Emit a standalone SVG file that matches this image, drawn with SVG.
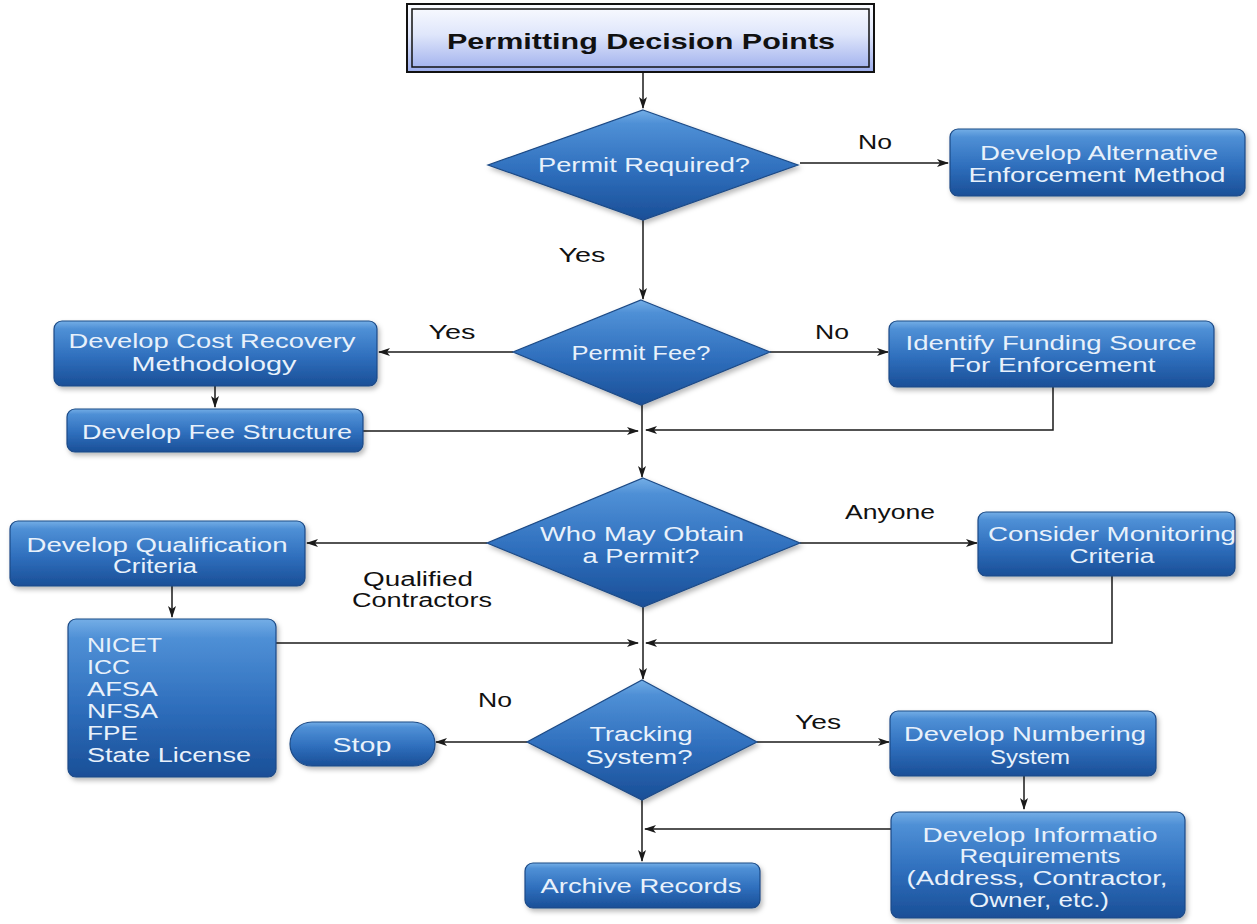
<svg xmlns="http://www.w3.org/2000/svg" width="1257" height="924" viewBox="0 0 1257 924">
<defs>
<linearGradient id="gBox" x1="0" y1="0" x2="0" y2="1">
<stop offset="0" stop-color="#74aee6"/>
<stop offset="0.12" stop-color="#4f90d6"/>
<stop offset="0.55" stop-color="#2f6fbd"/>
<stop offset="1" stop-color="#1a4f97"/>
</linearGradient>
<linearGradient id="gTitle" x1="0" y1="0" x2="0" y2="1">
<stop offset="0" stop-color="#fbfcff"/>
<stop offset="0.45" stop-color="#dfe6fb"/>
<stop offset="1" stop-color="#9cadec"/>
</linearGradient>
<filter id="sh" x="-10%" y="-10%" width="125%" height="135%">
<feDropShadow dx="2" dy="3" stdDeviation="2.5" flood-color="#000" flood-opacity="0.28"/>
</filter>
<marker id="ar" viewBox="0 0 12 10" refX="11" refY="5" markerWidth="12" markerHeight="10" markerUnits="userSpaceOnUse" orient="auto">
<path d="M0,1 L12,5 L0,9 L3,5 Z" fill="#1a1a1a"/>
</marker>
</defs>
<style>
.box{fill:url(#gBox);stroke:#1c4a86;stroke-width:1.2;filter:url(#sh)}
.bt{font-family:"Liberation Sans",Arial,sans-serif;font-size:20px;fill:#e8f1fb;text-anchor:middle}
.lt{font-family:"Liberation Sans",Arial,sans-serif;font-size:20px;fill:#e8f1fb}
.lbl{font-family:"Liberation Sans",Arial,sans-serif;font-size:20px;fill:#111;text-anchor:middle}
.con{fill:none;stroke:#1a1a1a;stroke-width:1.5}
</style>
<rect width="1257" height="924" fill="#ffffff"/>

<g id="connectors">
<path class="con" d="M643,72 V108" marker-end="url(#ar)"/>
<path class="con" d="M800,163 H948" marker-end="url(#ar)"/>
<path class="con" d="M643,220 V299" marker-end="url(#ar)"/>
<path class="con" d="M513,352 H379" marker-end="url(#ar)"/>
<path class="con" d="M770,352 H888" marker-end="url(#ar)"/>
<path class="con" d="M215,386 V407" marker-end="url(#ar)"/>
<path class="con" d="M363,431 H638" marker-end="url(#ar)"/>
<path class="con" d="M1053,387 V430 H646" marker-end="url(#ar)"/>
<path class="con" d="M642,405 V477" marker-end="url(#ar)"/>
<path class="con" d="M487,543 H307" marker-end="url(#ar)"/>
<path class="con" d="M800,543 H977" marker-end="url(#ar)"/>
<path class="con" d="M172,586 V617" marker-end="url(#ar)"/>
<path class="con" d="M276,643 H638" marker-end="url(#ar)"/>
<path class="con" d="M1112,576 V643 H646" marker-end="url(#ar)"/>
<path class="con" d="M643,607 V679" marker-end="url(#ar)"/>
<path class="con" d="M527,742 H436" marker-end="url(#ar)"/>
<path class="con" d="M757,742 H889" marker-end="url(#ar)"/>
<path class="con" d="M1024,776 V809" marker-end="url(#ar)"/>
<path class="con" d="M892,829 H645" marker-end="url(#ar)"/>
<path class="con" d="M642,800 V861" marker-end="url(#ar)"/>
</g>

<g id="edge-labels">
<text class="lbl" x="875" y="149" textLength="34" lengthAdjust="spacingAndGlyphs">No</text>
<text class="lbl" x="582" y="262" textLength="47" lengthAdjust="spacingAndGlyphs">Yes</text>
<text class="lbl" x="452" y="339" textLength="47" lengthAdjust="spacingAndGlyphs">Yes</text>
<text class="lbl" x="832" y="339" textLength="34" lengthAdjust="spacingAndGlyphs">No</text>
<text class="lbl" x="890" y="519" textLength="90" lengthAdjust="spacingAndGlyphs">Anyone</text>
<text class="lbl" x="418" y="586" textLength="110" lengthAdjust="spacingAndGlyphs">Qualified</text>
<text class="lbl" x="422" y="607" textLength="140" lengthAdjust="spacingAndGlyphs">Contractors</text>
<text class="lbl" x="495" y="707" textLength="34" lengthAdjust="spacingAndGlyphs">No</text>
<text class="lbl" x="818" y="729" textLength="46" lengthAdjust="spacingAndGlyphs">Yes</text>
</g>

<g id="title">
<rect x="407" y="4" width="467" height="68" fill="url(#gTitle)" stroke="#111" stroke-width="2"/>
<rect x="412" y="9" width="457" height="58" fill="none" stroke="#111" stroke-width="1.5"/>
<text x="641" y="49" font-family="'Liberation Sans',Arial,sans-serif" font-size="22" font-weight="bold" fill="#111" text-anchor="middle" textLength="388" lengthAdjust="spacingAndGlyphs">Permitting Decision Points</text>
</g>

<g id="permit-required">
<polygon class="box" points="643,110 798,165 643,220 488,165"/>
<text class="bt" x="644" y="172" textLength="212" lengthAdjust="spacingAndGlyphs">Permit Required?</text>
</g>

<g id="alt-enforcement">
<rect class="box" x="950" y="129" width="295" height="67" rx="8"/>
<text class="bt" x="1099" y="160" textLength="238" lengthAdjust="spacingAndGlyphs">Develop Alternative</text>
<text class="bt" x="1097" y="182" textLength="257" lengthAdjust="spacingAndGlyphs">Enforcement Method</text>
</g>

<g id="permit-fee">
<polygon class="box" points="641,300 770,352 641,405 513,352"/>
<text class="bt" x="641" y="360" textLength="139" lengthAdjust="spacingAndGlyphs">Permit Fee?</text>
</g>

<g id="cost-recovery">
<rect class="box" x="54" y="321" width="323" height="65" rx="8"/>
<text class="bt" x="212" y="348" textLength="287" lengthAdjust="spacingAndGlyphs">Develop Cost Recovery</text>
<text class="bt" x="214" y="371" textLength="165" lengthAdjust="spacingAndGlyphs">Methodology</text>
</g>

<g id="fee-structure">
<rect class="box" x="67" y="409" width="296" height="43" rx="8"/>
<text class="bt" x="217" y="439" textLength="270" lengthAdjust="spacingAndGlyphs">Develop Fee Structure</text>
</g>

<g id="funding-source">
<rect class="box" x="889" y="321" width="325" height="66" rx="8"/>
<text class="bt" x="1051" y="350" textLength="291" lengthAdjust="spacingAndGlyphs">Identify Funding Source</text>
<text class="bt" x="1052" y="372" textLength="207" lengthAdjust="spacingAndGlyphs">For Enforcement</text>
</g>

<g id="who-may-obtain">
<polygon class="box" points="643,478 800,543 643,607 487,543"/>
<text class="bt" x="642" y="541" textLength="204" lengthAdjust="spacingAndGlyphs">Who May Obtain</text>
<text class="bt" x="641" y="563" textLength="117" lengthAdjust="spacingAndGlyphs">a Permit?</text>
</g>

<g id="qualification">
<rect class="box" x="10" y="521" width="295" height="65" rx="8"/>
<text class="bt" x="157" y="552" textLength="261" lengthAdjust="spacingAndGlyphs">Develop Qualification</text>
<text class="bt" x="155" y="573" textLength="84" lengthAdjust="spacingAndGlyphs">Criteria</text>
</g>

<g id="credentials">
<rect class="box" x="68" y="619" width="208" height="158" rx="8"/>
<text class="lt" x="87" y="652" textLength="75" lengthAdjust="spacingAndGlyphs">NICET</text>
<text class="lt" x="87" y="674" textLength="43" lengthAdjust="spacingAndGlyphs">ICC</text>
<text class="lt" x="87" y="696" textLength="71" lengthAdjust="spacingAndGlyphs">AFSA</text>
<text class="lt" x="87" y="718" textLength="71" lengthAdjust="spacingAndGlyphs">NFSA</text>
<text class="lt" x="87" y="740" textLength="51" lengthAdjust="spacingAndGlyphs">FPE</text>
<text class="lt" x="87" y="762" textLength="164" lengthAdjust="spacingAndGlyphs">State License</text>
</g>

<g id="monitoring">
<rect class="box" x="978" y="512" width="257" height="64" rx="8"/>
<text class="bt" x="1112" y="541" textLength="248" lengthAdjust="spacingAndGlyphs">Consider Monitoring</text>
<text class="bt" x="1112" y="563" textLength="85" lengthAdjust="spacingAndGlyphs">Criteria</text>
</g>

<g id="tracking-system">
<polygon class="box" points="642,680 757,742 642,800 527,742"/>
<text class="bt" x="641" y="741" textLength="103" lengthAdjust="spacingAndGlyphs">Tracking</text>
<text class="bt" x="639" y="764" textLength="107" lengthAdjust="spacingAndGlyphs">System?</text>
</g>

<g id="stop">
<rect class="box" x="290" y="722" width="145" height="44" rx="22"/>
<text class="bt" x="362" y="752" textLength="59" lengthAdjust="spacingAndGlyphs">Stop</text>
</g>

<g id="numbering">
<rect class="box" x="890" y="711" width="266" height="65" rx="8"/>
<text class="bt" x="1025" y="741" textLength="242" lengthAdjust="spacingAndGlyphs">Develop Numbering</text>
<text class="bt" x="1030" y="764" textLength="80" lengthAdjust="spacingAndGlyphs">System</text>
</g>

<g id="info-requirements">
<rect class="box" x="891" y="812" width="294" height="106" rx="8"/>
<text class="bt" x="1040" y="842" textLength="235" lengthAdjust="spacingAndGlyphs">Develop Informatio</text>
<text class="bt" x="1040" y="863" textLength="161" lengthAdjust="spacingAndGlyphs">Requirements</text>
<text class="bt" x="1037" y="885" textLength="261" lengthAdjust="spacingAndGlyphs">(Address, Contractor,</text>
<text class="bt" x="1039" y="907" textLength="140" lengthAdjust="spacingAndGlyphs">Owner, etc.)</text>
</g>

<g id="archive">
<rect class="box" x="525" y="863" width="235" height="45" rx="8"/>
<text class="bt" x="641" y="893" textLength="201" lengthAdjust="spacingAndGlyphs">Archive Records</text>
</g>
</svg>
